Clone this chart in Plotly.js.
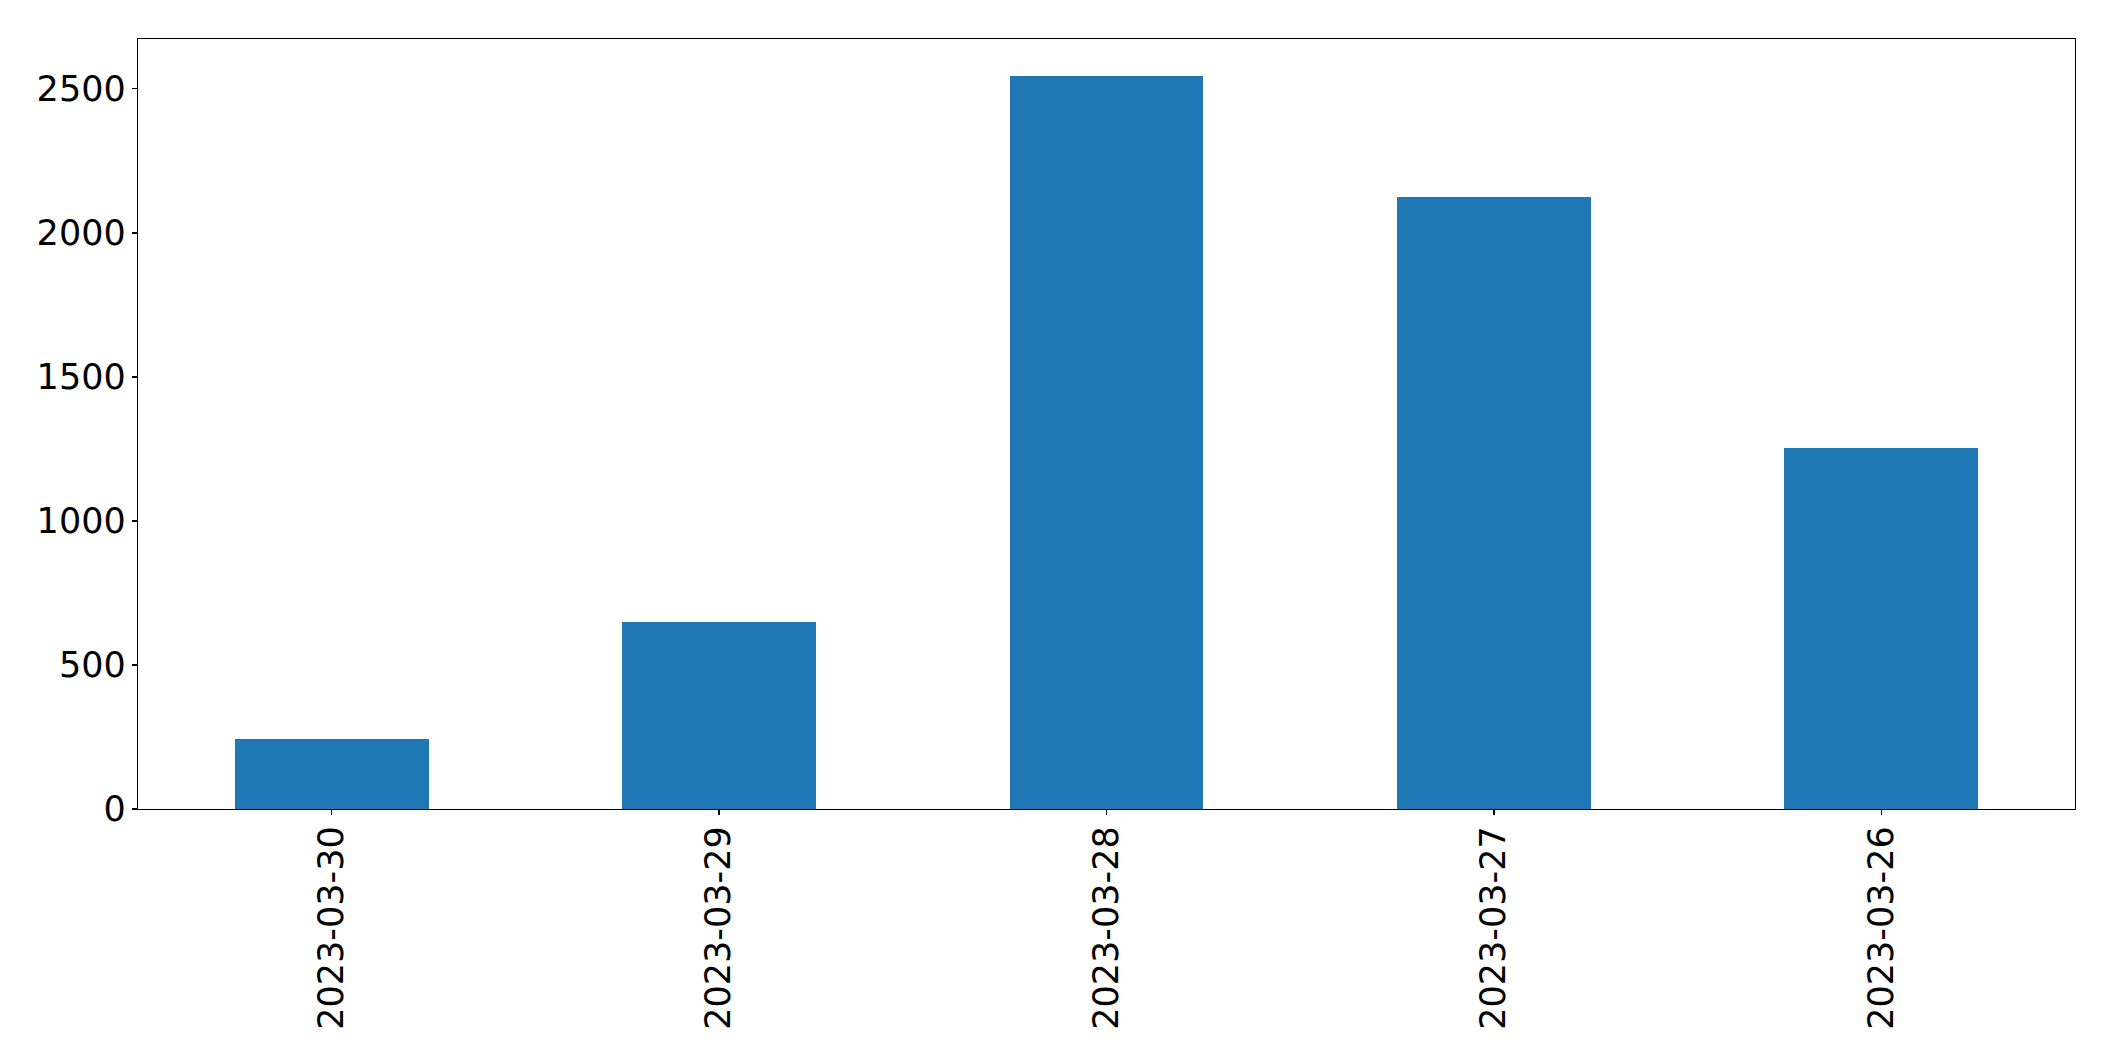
<!DOCTYPE html>
<html>
<head>
<meta charset="utf-8">
<script src="https://cdn.plot.ly/plotly-3.0.1.min.js"></script>
<style>html,body{margin:0;padding:0;background:#fff;}#chart{width:2115px;height:1061px;}</style>
</head>
<body>
<div id="chart"></div>
<script>
const dates = ["2023-03-30", "2023-03-29", "2023-03-28", "2023-03-27", "2023-03-26"];
const counts = [244, 650, 2546, 2126, 1254];
const yTicks = [0, 500, 1000, 1500, 2000, 2500];

const trace = {
  type: "bar",
  x: dates,
  y: counts,
  width: 0.5,
  marker: {color: "#1f77b4", line: {width: 0}},
  hoverinfo: "x+y"
};

const font = {family: "DejaVu Sans, sans-serif", size: 35, color: "#000"};

const layout = {
  width: 2115,
  height: 1061,
  margin: {l: 138, r: 40, t: 39, b: 252, pad: 0},
  paper_bgcolor: "#fff",
  plot_bgcolor: "#fff",
  showlegend: false,
  bargap: 0,
  font: font,
  xaxis: {
    type: "category",
    range: [-0.5, 4.5],
    tickangle: -90,
    ticks: "outside",
    ticklen: 5,
    tickwidth: 1.3,
    tickcolor: "#000",
    showline: true,
    linecolor: "#000",
    linewidth: 1.3,
    mirror: true,
    showgrid: false,
    zeroline: false,
    tickfont: font,
    ticklabelstandoff: -3
  },
  yaxis: {
    range: [0, 2673],
    tickmode: "array",
    tickvals: yTicks,
    ticktext: yTicks.map(String),
    ticks: "outside",
    ticklen: 5,
    tickwidth: 1.3,
    tickcolor: "#000",
    showline: true,
    linecolor: "#000",
    linewidth: 1.3,
    mirror: true,
    showgrid: false,
    zeroline: false,
    tickfont: font,
    ticklabelstandoff: -1
  }
};

Plotly.newPlot("chart", [trace], layout, {displayModeBar: false, staticPlot: true});
</script>
</body>
</html>
